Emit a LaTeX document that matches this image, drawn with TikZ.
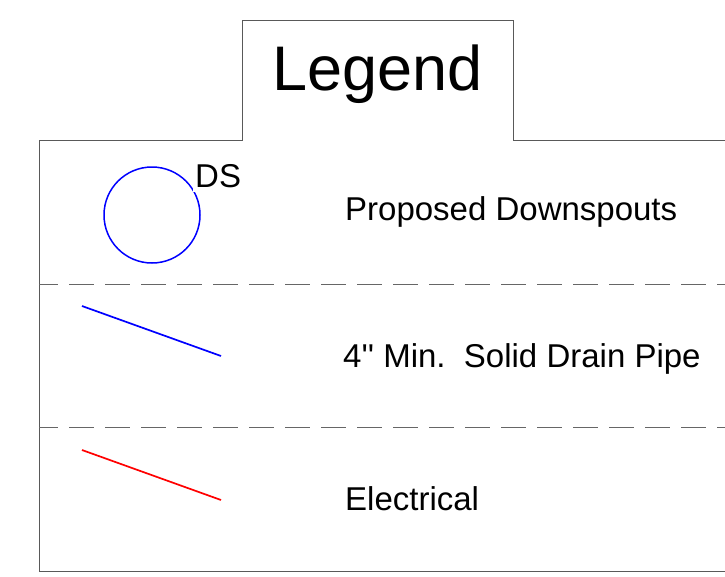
\documentclass[tikz,border=0pt]{standalone}
\usepackage{fontspec}
\setmainfont{Liberation Sans}
\usetikzlibrary{calc, positioning}
\frenchspacing

\begin{document}
\begin{tikzpicture}[
		x = 1pt, y = -1pt,
		frame/.style = {draw = black!65, line width = 1pt},
		divider/.style = {draw = black!60, line width = 1pt, dash pattern = on 25pt off 11pt, dash phase = 5.7pt},
		entry/.style = {anchor = base west, inner sep = 0pt, font = \fontsize{33}{38}\selectfont},
		pipe/.style = {line width = 1.7pt}
		]
		\useasboundingbox (0,0) rectangle (725,576);

		% outline with the title tab
		\draw[frame] (725,140) -- (513,140) -- (513,20) -- (242,20) -- (242,140)
			-- (39,140) -- (39,571) -- (725,571);
		\node[anchor = base west, inner sep = 0pt, font = \fontsize{63}{68}\selectfont] (Title) at (272,90) {Legend};

		% rows
		\coordinate (L1) at (39,284);  \coordinate (R1) at (725,284);
		\coordinate (L2) at (39,427);  \coordinate (R2) at (725,427);
		\draw[divider] (L1) -- (R1);
		\draw[divider] (L2) -- (R2);

		% downspout symbol
		\node[draw = blue, line width = 1.5pt, circle, minimum size = 96pt, inner sep = 0pt] (Spout) at (152,215) {};
		\node[entry, fill = white, inner xsep = 2pt, inner ysep = 4.5pt] (DS) at (193,187) {DS};
		\node[entry] (Downspouts) at (345,220) {Proposed Downspouts};

		% drain pipe
		\coordinate (DrainA) at (82,306);  \coordinate (DrainB) at (221,356);
		\draw[pipe, blue] (DrainA) -- (DrainB);
		\node[entry] (Drain) at (343,367) {4\textquotesingle\textquotesingle{} Min.\ \ Solid Drain Pipe};

		% electrical
		\coordinate (ElecA) at (82,450);  \coordinate (ElecB) at (221,500);
		\draw[pipe, red] (ElecA) -- (ElecB);
		\node[entry] (Electrical) at (345,510) {Electrical};
	\end{tikzpicture}
\end{document}
